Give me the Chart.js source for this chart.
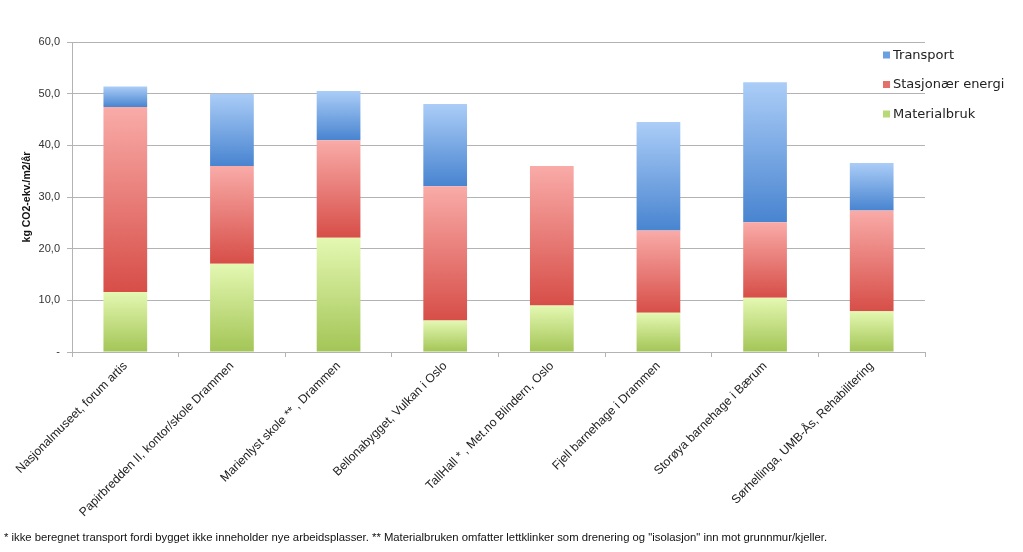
<!DOCTYPE html>
<html><head><meta charset="utf-8">
<script src="https://cdn.jsdelivr.net/npm/chart.js@4"></script>
<style>
html,body{margin:0;padding:0;background:#fff;}
#wrap{position:relative;width:1023px;height:552px;}
#note{position:absolute;left:4px;top:531px;font:11.3px 'Liberation Sans',sans-serif;color:#111;white-space:nowrap;}
</style></head><body>
<div id="wrap"><canvas id="c" width="1023" height="552"></canvas>
<div id="note">* ikke beregnet transport fordi bygget ikke inneholder nye arbeidsplasser. ** Materialbruken omfatter lettklinker som drenering og "isolasjon" inn mot grunnmur/kjeller.</div></div>
<script>
const categories = ["Nasjonalmuseet, forum artis","Papirbredden II, kontor/skole Drammen","Marienlyst skole ** , Drammen","Bellonabygget, Vulkan i Oslo","TallHall * , Met.no Blindern, Oslo","Fjell barnehage i Drammen","Storøya barnehage i Bærum","Sørhellinga, UMB-Ås, Rehabilitering"];
const materialbruk = [11.6,17.1,22.1,6.1,9.0,7.6,10.5,7.9];
const stasjonaerEnergi = [35.8,18.9,18.9,26.0,27.0,15.9,14.6,19.5];
const transport = [4.0,14.0,9.5,15.9,0,21.0,27.1,9.2];
const seriesNames = ["Materialbruk","Stasjonær energi","Transport"];
const yTicks = [0,10,20,30,40,50,60];
const yTitle = "kg CO2-ekv./m2/år";

const stacks = [materialbruk, stasjonaerEnergi, transport];
const palette = [
  {top:'#e4f8b2', bottom:'#a3c556', legend:'#b9d978'},
  {top:'#f9aba8', bottom:'#d74e48', legend:'#e2706b'},
  {top:'#abcdf7', bottom:'#4884d0', legend:'#6a9fe0'}
];

function grad(si){
  return (ctx) => {
    const p = palette[si];
    const chart = ctx.chart;
    if (!chart.chartArea || ctx.type !== 'data') return p.bottom;
    const y = chart.scales.y;
    let base = 0;
    for (let k = 0; k < si; k++) base += stacks[k][ctx.dataIndex];
    const v = stacks[si][ctx.dataIndex];
    const y0 = y.getPixelForValue(base + v), y1 = y.getPixelForValue(base);
    if (!(y1 > y0)) return p.bottom;
    const g = chart.ctx.createLinearGradient(0, y0, 0, y1);
    g.addColorStop(0, p.top); g.addColorStop(1, p.bottom);
    return g;
  };
}

const sideLegend = {
  id: 'sideLegend',
  afterDraw(chart){
    const ctx = chart.ctx, ca = chart.chartArea;
    ctx.save();
    ctx.font = '13px "DejaVu Sans"';
    ctx.textBaseline = 'middle';
    const n = chart.data.datasets.length;
    for (let i = 0; i < n; i++){
      const di = n - 1 - i;
      const ds = chart.data.datasets[di];
      const yy = ca.top + 13.5 + i * 29.5;
      const x = ca.right - 42;
      ctx.fillStyle = palette[di].legend;
      ctx.fillRect(x, yy - 4, 7, 7);
      ctx.fillStyle = '#222';
      ctx.fillText(ds.label, x + 10, yy);
    }
    ctx.restore();
  }
};

new Chart(document.getElementById('c'), {
  type: 'bar',
  data: {
    labels: categories,
    datasets: stacks.map((d, i) => ({
      label: seriesNames[i],
      data: d,
      backgroundColor: grad(i),
      borderWidth: 0,
      barPercentage: 0.41,
      categoryPercentage: 1.0
    }))
  },
  options: {
    responsive: false,
    animation: false,
    devicePixelRatio: 1,
    layout: {padding: {top: 42, right: 98, left: 0, bottom: 0}},
    plugins: {legend: {display: false}, tooltip: {enabled: false}},
    scales: {
      x: {
        stacked: true,
        grid: {display: true, drawOnChartArea: false, drawTicks: true, tickLength: 5, color: '#b3b3b3', offset: true},
        border: {color: '#b3b3b3'},
        ticks: {autoSkip: false, maxRotation: 45, minRotation: 45, color: '#222', font: {family: 'Liberation Sans', size: 12.2}, padding: 2},
        afterFit(s){ s.height = 200; s.paddingLeft = 0; s.paddingRight = 0; }
      },
      y: {
        stacked: true,
        min: 0, max: 60,
        afterBuildTicks(s){ s.ticks = yTicks.map(v => ({value: v})); },
        grid: {color: '#b3b3b3', tickLength: 5},
        border: {color: '#b3b3b3'},
        ticks: {color: '#333', font: {family: 'Liberation Sans', size: 11}, padding: 7,
          callback: v => v === 0 ? '-' : v.toFixed(1).replace('.', ',')},
        title: {display: true, text: yTitle, color: '#111', font: {family: 'Liberation Sans', size: 10.5, weight: 'bold'}, padding: {top: 21, bottom: 0}},
        afterFit(s){ s.width = 72; }
      }
    }
  },
  plugins: [sideLegend]
});
</script>
</body></html>
